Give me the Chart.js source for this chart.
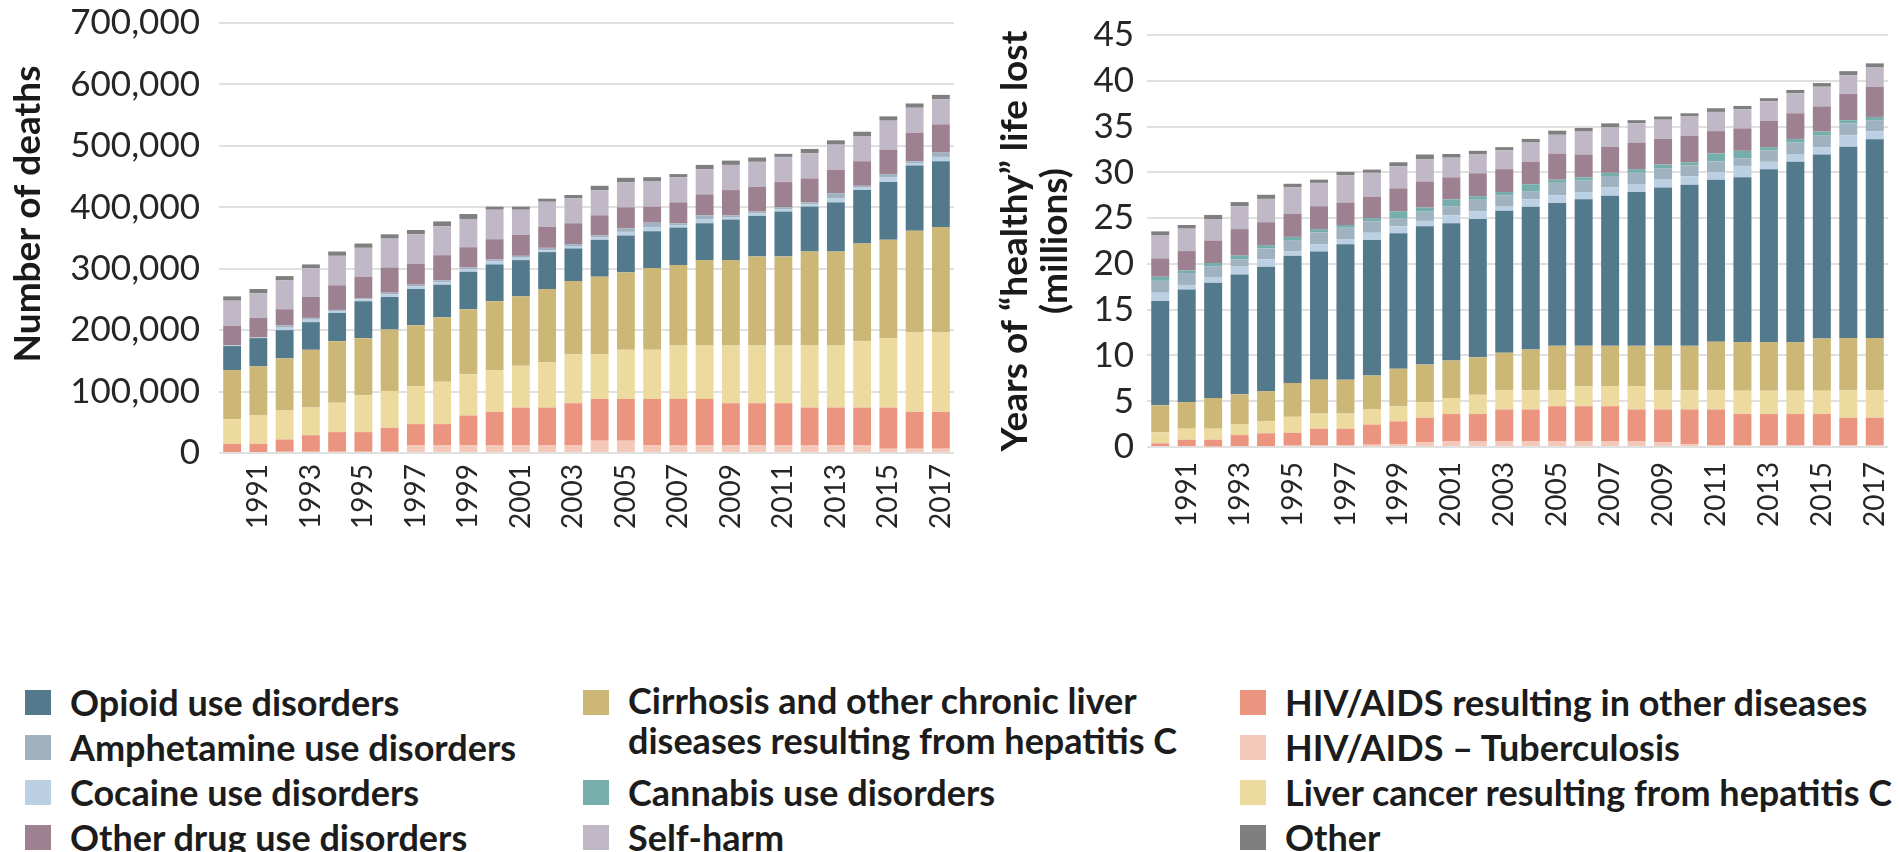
<!DOCTYPE html>
<html>
<head>
<meta charset="utf-8">
<script src="https://cdn.jsdelivr.net/npm/chart.js@4.4.1/dist/chart.umd.min.js"></script>
<style>
  html, body { margin: 0; padding: 0; background: #fff; }
  body { width: 1899px; height: 852px; position: relative; overflow: hidden; font-family: Lato, sans-serif; }
  #deaths { position: absolute; left: 0; top: 0; }
  #yll { position: absolute; left: 975px; top: 0; }
  .legend-col { position: absolute; top: 680px; }
  .legend-item { display: flex; align-items: flex-start; height: 45px; line-height: 45px;
    font-weight: 700; font-size: 36px; color: #1c1c1c; white-space: pre; }
  .legend-item.tall { height: 90px; line-height: 40px; }
  .swatch { width: 26px; height: 25px; margin-right: 19px; margin-top: 10px; flex: none; }
</style>
</head>
<body>
<canvas id="deaths" width="975" height="545"></canvas>
<canvas id="yll" width="924" height="545"></canvas>
<div id="legend"></div>
<script>
const years = ['1990', '1991', '1992', '1993', '1994', '1995', '1996', '1997', '1998', '1999',
  '2000', '2001', '2002', '2003', '2004', '2005', '2006', '2007', '2008', '2009',
  '2010', '2011', '2012', '2013', '2014', '2015', '2016', '2017'];
const yearTicks = ['1991', '1993', '1995', '1997', '1999', '2001', '2003', '2005', '2007',
  '2009', '2011', '2013', '2015', '2017'];

// number of deaths
const deathsHivTb = [0, 0, 2000, 2000, 2000, 2000, 2000, 13000, 13000, 13000, 13000, 13000, 13000, 13000,
  20000, 20000, 13000, 13000, 13000, 13000, 13000, 13000, 13000, 13000, 13000, 7000, 7000, 7000];
const deathsHiv = [15000, 15000, 20000, 27000, 32000, 32000, 39000, 34000, 34000, 48000, 54000, 61000, 61000, 68000,
  68000, 68000, 75000, 75000, 75000, 68000, 68000, 68000, 61000, 61000, 61000, 67000, 60000, 60000];
const deathsLiverCancer = [40000, 46000, 47000, 45000, 48000, 60000, 60000, 62000, 69000, 67000, 68000, 68000, 74000, 80000,
  73000, 80000, 80000, 87000, 87000, 94000, 94000, 94000, 102000, 102000, 108000, 113000, 129000, 129000];
const deathsCirrhosis = [80000, 80000, 85000, 94000, 100000, 93000, 100000, 99000, 105000, 106000, 112000, 113000, 119000, 119000,
  126000, 126000, 133000, 131000, 139000, 139000, 145000, 145000, 152000, 152000, 159000, 160000, 166000, 172000];
const deathsOpioid = [39000, 46000, 46000, 45000, 46000, 60000, 53000, 59000, 53000, 61000, 60000, 59000, 60000, 53000,
  60000, 60000, 60000, 61000, 60000, 66000, 66000, 73000, 73000, 80000, 87000, 94000, 106000, 107000];
const deathsCocaine = [1000, 1000, 4000, 4000, 3000, 3000, 4000, 4000, 4000, 4000, 5000, 4000, 3000, 4000,
  4000, 6000, 7000, 4000, 7000, 4000, 4000, 4000, 4000, 7000, 4000, 8000, 4000, 7000];
const deathsAmphetamine = [0, 0, 4000, 3000, 2000, 2000, 3000, 3000, 3000, 3000, 3000, 3000, 4000, 3000,
  3000, 6000, 7000, 3000, 6000, 3000, 3000, 3000, 3000, 8000, 3000, 5000, 3000, 7000];
const deathsCannabis = [0, 0, 0, 0, 0, 0, 0, 0, 0, 0, 0, 0, 0, 0,
  0, 0, 0, 0, 0, 0, 0, 0, 0, 0, 0, 0, 0, 0];
const deathsOtherDrug = [32000, 32000, 26000, 34000, 40000, 35000, 41000, 34000, 41000, 33000, 33000, 34000, 34000, 34000,
  33000, 34000, 26000, 34000, 34000, 41000, 40000, 41000, 39000, 38000, 40000, 40000, 46000, 46000];
const deathsSelfHarm = [41000, 40000, 47000, 47000, 48000, 47000, 47000, 48000, 47000, 46000, 48000, 41000, 41000, 41000,
  41000, 41000, 41000, 41000, 41000, 41000, 41000, 41000, 41000, 41000, 41000, 47000, 41000, 41000];
const deathsOther = [7000, 7000, 7000, 6000, 7000, 7000, 7000, 7000, 8000, 8000, 5000, 5000, 5000, 5000,
  7000, 7000, 7000, 5000, 7000, 7000, 7000, 5000, 7000, 7000, 7000, 7000, 7000, 7000];

// years of healthy life lost (millions)
const yllHivTb = [0, 0, 0.05, 0.1, 0.1, 0.15, 0.2, 0.2, 0.25, 0.3, 0.5, 0.6, 0.6, 0.6,
  0.6, 0.6, 0.6, 0.6, 0.6, 0.5, 0.3, 0.2, 0.2, 0.2, 0.2, 0.2, 0.2, 0.2];
const yllHiv = [0.4, 0.8, 0.75, 1.2, 1.4, 1.4, 1.8, 1.8, 2.2, 2.5, 2.7, 3.0, 3.0, 3.5,
  3.5, 3.85, 3.85, 3.85, 3.5, 3.6, 3.8, 3.9, 3.4, 3.4, 3.4, 3.4, 3.0, 3.0];
const yllLiverCancer = [1.2, 1.2, 1.2, 1.2, 1.3, 1.75, 1.65, 1.65, 1.65, 1.65, 1.7, 1.75, 2.1, 2.1,
  2.1, 1.75, 2.2, 2.2, 2.55, 2.1, 2.1, 2.1, 2.55, 2.55, 2.55, 2.55, 3.0, 3.0];
const yllCirrhosis = [2.95, 2.9, 3.35, 3.25, 3.3, 3.7, 3.7, 3.7, 3.7, 4.1, 4.1, 4.1, 4.1, 4.1,
  4.45, 4.85, 4.4, 4.4, 4.4, 4.85, 4.85, 5.3, 5.3, 5.3, 5.3, 5.7, 5.7, 5.7];
const yllOpioid = [11.4, 12.3, 12.6, 13.1, 13.6, 13.9, 14.0, 14.8, 14.8, 14.8, 15.1, 15.0, 15.1, 15.5,
  15.6, 15.6, 16.0, 16.4, 16.8, 17.3, 17.6, 17.7, 18.0, 18.9, 19.7, 20.1, 20.9, 21.7];
const yllCocaine = [0.9, 0.5, 0.55, 0.85, 0.8, 0.45, 0.8, 0.5, 0.8, 0.75, 0.6, 0.85, 0.85, 0.45,
  0.8, 0.85, 0.8, 0.9, 0.8, 0.85, 0.9, 0.8, 1.25, 0.8, 0.85, 0.8, 1.25, 0.9];
const yllAmphetamine = [1.3, 1.3, 1.25, 0.8, 1.2, 1.25, 1.3, 1.3, 1.25, 0.9, 1.0, 1.0, 1.25, 1.25,
  0.9, 1.35, 1.25, 1.25, 1.3, 1.2, 1.2, 1.2, 0.85, 1.25, 1.25, 1.25, 1.3, 1.2];
const yllCannabis = [0.45, 0.3, 0.35, 0.4, 0.35, 0.35, 0.35, 0.3, 0.35, 0.75, 0.45, 0.75, 0.4, 0.35,
  0.75, 0.35, 0.35, 0.35, 0.4, 0.45, 0.35, 0.85, 0.8, 0.35, 0.4, 0.45, 0.35, 0.35];
const yllOtherDrug = [2.0, 2.1, 2.45, 2.9, 2.5, 2.5, 2.5, 2.45, 2.35, 2.5, 2.85, 2.4, 2.5, 2.5,
  2.45, 2.85, 2.5, 2.85, 2.9, 2.8, 2.9, 2.45, 2.45, 2.9, 2.8, 2.75, 2.85, 3.3];
const yllSelfHarm = [2.5, 2.45, 2.35, 2.5, 2.55, 2.9, 2.55, 3.0, 2.6, 2.4, 2.45, 2.15, 2.1, 2.05,
  2.1, 2.05, 2.5, 2.1, 2.1, 2.1, 2.1, 2.1, 2.1, 2.1, 2.2, 2.15, 2.05, 2.1];
const yllOther = [0.45, 0.4, 0.45, 0.45, 0.45, 0.4, 0.35, 0.35, 0.35, 0.45, 0.5, 0.4, 0.35, 0.35,
  0.4, 0.45, 0.4, 0.45, 0.35, 0.35, 0.35, 0.4, 0.35, 0.35, 0.35, 0.4, 0.45, 0.45];

// bottom to top
const series = [
  { label: 'HIV/AIDS – Tuberculosis', color: '#f5c9b9', deaths: deathsHivTb, yll: yllHivTb },
  { label: 'HIV/AIDS resulting in other diseases', color: '#eb9580', deaths: deathsHiv, yll: yllHiv },
  { label: 'Liver cancer resulting from hepatitis C', color: '#ecda9e', deaths: deathsLiverCancer, yll: yllLiverCancer },
  { label: 'Cirrhosis and other chronic liver\ndiseases resulting from hepatitis C', color: '#cdb777', deaths: deathsCirrhosis, yll: yllCirrhosis },
  { label: 'Opioid use disorders', color: '#53798c', deaths: deathsOpioid, yll: yllOpioid },
  { label: 'Cocaine use disorders', color: '#bcd0e3', deaths: deathsCocaine, yll: yllCocaine },
  { label: 'Amphetamine use disorders', color: '#a0b2c0', deaths: deathsAmphetamine, yll: yllAmphetamine },
  { label: 'Cannabis use disorders', color: '#75aeab', deaths: deathsCannabis, yll: yllCannabis },
  { label: 'Other drug use disorders', color: '#9d8191', deaths: deathsOtherDrug, yll: yllOtherDrug },
  { label: 'Self-harm', color: '#c1b8c7', deaths: deathsSelfHarm, yll: yllSelfHarm },
  { label: 'Other', color: '#7f7f7f', deaths: deathsOther, yll: yllOther },
];

const legendColumns = [
  { left: 25, items: [4, 6, 5, 8] },
  { left: 583, items: [3, 7, 9] },
  { left: 1240, items: [1, 0, 2, 10] },
];

Chart.defaults.font.family = 'Lato';
Chart.defaults.color = '#262626';

// moves only the y-axis title along the axis (scale box and bars stay put)
const titleShift = {
  id: 'titleShift',
  beforeDraw(chart, args, opts) {
    const s = chart.scales.y;
    if (s._titleWrapped) return;
    const shift = opts.shift;
    const drawTitle = s.drawTitle;
    s.drawTitle = function () {
      this.top += shift;
      this.bottom += shift;
      drawTitle.call(this);
      this.top -= shift;
      this.bottom -= shift;
    };
    s._titleWrapped = true;
  }
};

function makeChart(id, key, cfg) {
  return new Chart(document.getElementById(id), {
    type: 'bar',
    data: {
      labels: years,
      datasets: series.map(s => ({
        label: s.label,
        data: s[key],
        backgroundColor: s.color,
        categoryPercentage: 1,
        barPercentage: 0.68,
      })),
    },
    plugins: [titleShift],
    options: {
      responsive: false,
      animation: false,
      layout: { padding: cfg.padding },
      plugins: {
        legend: { display: false },
        tooltip: { enabled: false },
        titleShift: { shift: cfg.titleShift },
      },
      scales: {
        x: {
          stacked: true,
          grid: { display: false, drawTicks: false },
          border: { display: false },
          ticks: {
            autoSkip: false,
            maxRotation: 90,
            minRotation: 90,
            padding: cfg.xPad,
            font: { size: 28 },
            callback(value) {
              const y = this.getLabelForValue(value);
              return yearTicks.includes(y) ? y : '';
            },
          },
          afterFit(s) {
            s.height = cfg.xHeight;
            s.paddingLeft = 0;
            s.paddingRight = 0;
          },
        },
        y: {
          stacked: true,
          min: 0,
          max: cfg.max,
          grid: { color: '#e0e0e0', lineWidth: 2, drawTicks: false },
          border: { display: false },
          ticks: {
            stepSize: cfg.step,
            padding: cfg.yPad,
            font: { size: 35 },
            callback: v => v.toLocaleString('en-US'),
          },
          title: {
            display: true,
            text: cfg.title,
            color: '#1a1a1a',
            font: { size: 37, weight: 'bold', lineHeight: 1.08 },
            padding: { top: cfg.titlePad, bottom: 0 },
          },
          afterFit(s) {
            s.width = cfg.yWidth;
            s.paddingTop = 0;
            s.paddingBottom = 0;
          },
        },
      },
    },
  });
}

makeChart('deaths', 'deaths', {
  padding: { top: 23, right: 21, left: 0, bottom: 0 },
  xHeight: 92, xPad: 11, yWidth: 219, yPad: 19,
  max: 700000, step: 100000,
  title: 'Number of deaths', titlePad: 8, titleShift: -24,
});

makeChart('yll', 'yll', {
  padding: { top: 35, right: 11, left: 0, bottom: 0 },
  xHeight: 98, xPad: 15, yWidth: 172, yPad: 13,
  max: 45, step: 5,
  title: ['Years of \u201chealthy\u201d life lost', '(millions)'], titlePad: 20, titleShift: 0,
});

// legend in three columns under both charts
const legend = document.getElementById('legend');
legendColumns.forEach(col => {
  const div = document.createElement('div');
  div.className = 'legend-col';
  div.style.left = col.left + 'px';
  col.items.forEach(i => {
    const s = series[i];
    const item = document.createElement('div');
    item.className = 'legend-item' + (s.label.includes('\n') ? ' tall' : '');
    const sw = document.createElement('span');
    sw.className = 'swatch';
    sw.style.background = s.color;
    const txt = document.createElement('span');
    txt.textContent = s.label;
    item.appendChild(sw);
    item.appendChild(txt);
    div.appendChild(item);
  });
  legend.appendChild(div);
});
</script>
</body>
</html>
